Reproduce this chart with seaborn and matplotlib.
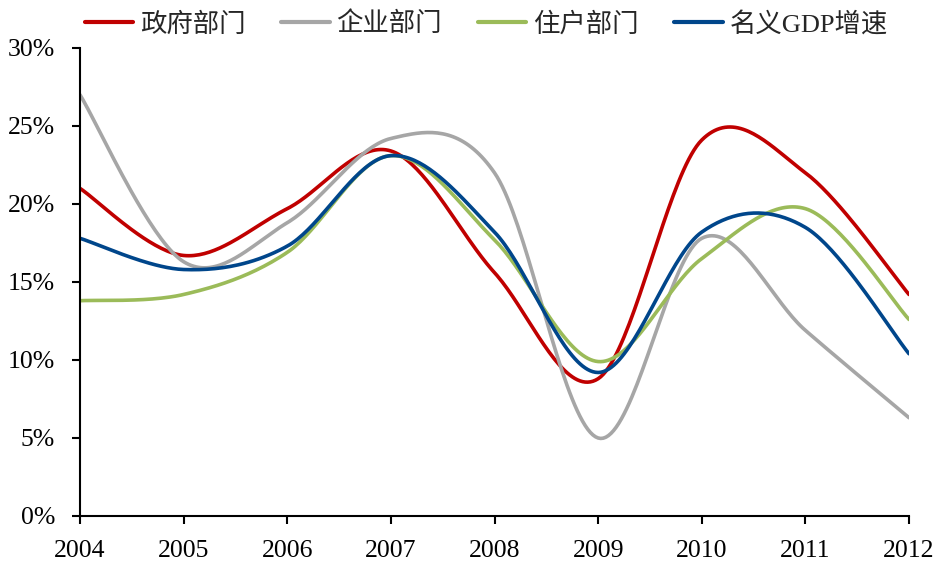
import numpy as np
import pandas as pd
import matplotlib
matplotlib.use("Agg")
import matplotlib.pyplot as plt
import seaborn as sns

# Annual growth rates (%), 2004-2012
years = [2004, 2005, 2006, 2007, 2008, 2009, 2010, 2011, 2012]
government = [21.0, 16.7, 19.7, 23.4, 15.6, 8.8, 24.1, 22.0, 14.2]
enterprise = [27.0, 16.3, 18.8, 24.2, 22.0, 5.0, 17.8, 11.9, 6.3]
household = [13.8, 14.2, 16.9, 23.1, 17.7, 9.9, 16.5, 19.7, 12.6]
nominal_gdp = [17.8, 15.8, 17.3, 23.1, 18.2, 9.2, 18.2, 18.5, 10.4]

series_names = ["政府部门", "企业部门", "住户部门", "名义GDP增速"]
series_values = [government, enterprise, household, nominal_gdp]
colors = ["#C00000", "#A6A6A6", "#9BBB59", "#00468B"]
y_ticks = [0, 5, 10, 15, 20, 25, 30]


def smooth_curve(x, y, steps=40):
    """Bezier smoothing of a polyline (tangent = neighbour difference / 6)."""
    x = np.asarray(x, float)
    y = np.asarray(y, float)
    n = len(x)
    pts = np.column_stack([x, y])
    out = []
    for i in range(n - 1):
        p0 = pts[max(i - 1, 0)]
        p1 = pts[i]
        p2 = pts[i + 1]
        p3 = pts[min(i + 2, n - 1)]
        c1 = p1 + (p2 - p0) / 6.0
        c2 = p2 - (p3 - p1) / 6.0
        t = np.linspace(0, 1, steps, endpoint=(i == n - 2))[:, None]
        seg = ((1 - t) ** 3) * p1 + 3 * ((1 - t) ** 2) * t * c1 \
            + 3 * (1 - t) * t ** 2 * c2 + t ** 3 * p2
        out.append(seg)
    out = np.vstack(out)
    return out[:, 0], out[:, 1]


frames = []
for name, vals in zip(series_names, series_values):
    sx, sy = smooth_curve(years, vals)
    frames.append(pd.DataFrame({"year": sx, "value": sy, "series": name}))
df = pd.concat(frames, ignore_index=True)

sns.set_style("ticks")
plt.rcParams["font.family"] = ["Liberation Serif", "Noto Sans CJK SC"]

fig = plt.figure(figsize=(9.37, 5.61), dpi=100)
ax = fig.add_axes([80 / 937, 1 - 516 / 561, (909 - 80) / 937, (516 - 48) / 561])

sns.lineplot(data=df, x="year", y="value", hue="series", hue_order=series_names,
             palette=colors, linewidth=2.6, sort=False, estimator=None,
             ax=ax, legend=True)

ax.set_xlim(2004, 2012)
ax.set_ylim(0, 30)
ax.set_xticks(years)
ax.set_xticklabels([str(y) for y in years])
ax.set_yticks(y_ticks)
ax.set_yticklabels([f"{v}%" for v in y_ticks])
ax.set_xlabel("")
ax.set_ylabel("")
for side in ["top", "right"]:
    ax.spines[side].set_visible(False)
for side in ["left", "bottom"]:
    ax.spines[side].set_linewidth(1.5)
    ax.spines[side].set_color("black")
ax.tick_params(axis="both", direction="out", length=6, width=1.5,
               labelsize=18.5, colors="black")
ax.tick_params(axis="y", pad=12)
ax.tick_params(axis="x", pad=11)

handles, labels = ax.get_legend_handles_labels()
for h in handles:
    h.set_linewidth(3)
ax.legend(handles, labels, loc="center", bbox_to_anchor=(0.5 - 0.01, 1 + 24 / 468),
          ncol=4, frameon=False, fontsize=19, handlelength=1.85,
          handletextpad=0.25, columnspacing=1.35, borderaxespad=0)

fig.savefig("out.png", dpi=100)
